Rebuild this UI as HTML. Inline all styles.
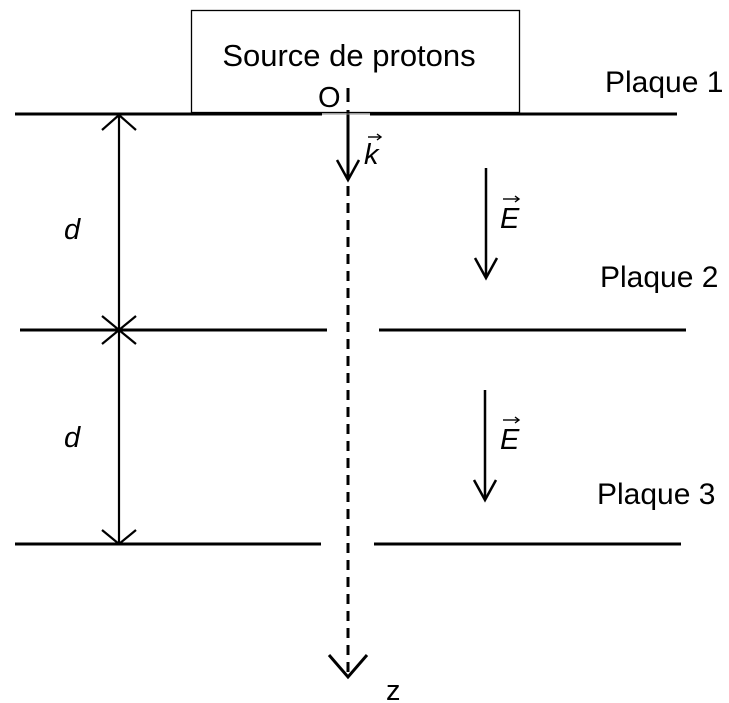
<!DOCTYPE html>
<html><head><meta charset="utf-8"><style>
html,body{margin:0;padding:0;background:#fff;}
svg{display:block;}
text{font-family:"Liberation Sans",Arial,sans-serif;fill:#000;}
</style></head><body>
<svg width="729" height="703" viewBox="0 0 729 703" xmlns="http://www.w3.org/2000/svg">
<rect x="191.5" y="10.5" width="328" height="102" fill="#fff" stroke="#000" stroke-width="1.3"/>
<text x="349" y="66" font-size="31" text-anchor="middle">Source de protons</text>
<text x="318" y="107" font-size="29">O</text>
<g stroke="#000" stroke-width="3" fill="none">
<line x1="15" y1="114" x2="322" y2="114"/>
<line x1="370" y1="114" x2="677" y2="114"/>
<line x1="20" y1="330" x2="327" y2="330"/>
<line x1="379" y1="330" x2="686" y2="330"/>
<line x1="15" y1="544" x2="321" y2="544"/>
<line x1="374" y1="544" x2="681" y2="544"/>
<line x1="119" y1="114" x2="119" y2="544" stroke-width="2.2"/>
<polyline points="102,130 119,115 136,130" stroke-width="2.2"/>
<polyline points="102,316 119,330 136,316" stroke-width="2.2"/>
<polyline points="102,344 119,330 136,344" stroke-width="2.2"/>
<polyline points="102,530 119,544 136,530" stroke-width="2.2"/>
<line x1="348" y1="88" x2="348" y2="102"/>
<line x1="348" y1="110" x2="348" y2="180"/>
<polyline points="337,160 348,180 359,160" stroke-width="2.5"/>
<line x1="348" y1="186" x2="348" y2="672" stroke-dasharray="10,7"/>
<polyline points="329,655 348,677 367,655"/>
<line x1="486" y1="168" x2="486" y2="278" stroke-width="2.5"/>
<polyline points="475,258 486,278 497,258" stroke-width="2.5"/>
<line x1="485" y1="390" x2="485" y2="500" stroke-width="2.5"/>
<polyline points="474,480 485,500 496,480" stroke-width="2.5"/>
</g>
<line x1="322" y1="114" x2="370" y2="114" stroke="#888" stroke-width="1"/>
<g stroke="#000" stroke-width="1.4" fill="none">
<line x1="368" y1="137" x2="381" y2="137"/><polyline points="377,134 381,137 377,140"/>
<line x1="503" y1="199" x2="519" y2="199"/><polyline points="515,196 519,199 515,202"/>
<line x1="503" y1="420" x2="519" y2="420"/><polyline points="515,417 519,420 515,423"/>
</g>
<text x="364" y="164" font-size="29" font-style="italic">k</text>
<text x="500" y="228" font-size="29" font-style="italic">E</text>
<text x="500" y="449" font-size="29" font-style="italic">E</text>
<text x="64" y="239" font-size="29" font-style="italic">d</text>
<text x="64" y="447" font-size="29" font-style="italic">d</text>
<text x="605" y="92" font-size="30">Plaque 1</text>
<text x="600" y="287" font-size="30">Plaque 2</text>
<text x="597" y="504" font-size="30">Plaque 3</text>
<text x="386" y="700" font-size="29">z</text>
</svg>
</body></html>
